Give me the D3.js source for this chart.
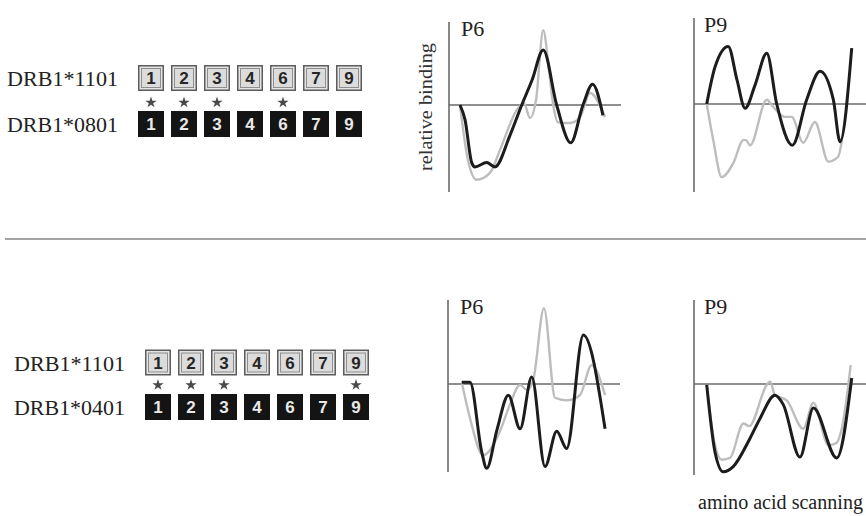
<!DOCTYPE html>
<html>
<head>
<meta charset="utf-8">
<script src="https://cdn.jsdelivr.net/npm/d3@7"></script>
<style>
  body { margin: 0; background: #fff; }
  svg { display: block; }
</style>
</head>
<body>
<div id="figure"></div>
<script>
var svgWidth = 866;
var svgHeight = 516;

// Data
// ==============================
var pockets = ["1", "2", "3", "4", "6", "7", "9"];
var topAlleles = ["DRB1*1101", "DRB1*0801"];
var bottomAlleles = ["DRB1*1101", "DRB1*0401"];
var topStars = ["1", "2", "3", "6"];
var bottomStars = ["1", "2", "3", "9"];
var panelTitles = ["P6", "P9", "P6", "P9"];

// scan position (0-100) and relative binding (-1..1)
var topP6Black = [[6.4,0],[9.3,-0.17],[13.2,-0.67],[15.1,-0.72],[21.9,-0.67],[26.7,-0.72],[35.5,-0.35],[42.3,0],[48.3,0.29],[54.8,0.64],[62.6,0],[70.8,-0.44],[77.9,0],[83.5,0.24],[89.5,-0.12]];
var topP6Gray = [[6.4,0],[11.0,-0.64],[16.1,-0.87],[23.8,-0.79],[29.7,-0.52],[39.4,-0.06],[43.6,0.02],[47.1,-0.15],[50.6,0.06],[54.8,0.87],[58.1,0.41],[60.6,0],[63.4,-0.2],[70.3,-0.21],[76.2,-0.14],[82.0,0.14],[90.7,-0.14]];
var topP9Black = [[7.4,0],[12.2,0.43],[19.9,0.67],[25,0.28],[29.7,-0.05],[35.5,0.22],[42.3,0.59],[48.1,0],[57.2,-0.48],[65.5,0.05],[73.3,0.38],[81,0.05],[84.9,-0.44],[91.7,0.65]];
var topP9Gray = [[7.4,0],[11.2,-0.42],[16.1,-0.85],[22.8,-0.69],[28.7,-0.42],[30.2,-0.42],[32.6,-0.48],[42.3,0.05],[45.9,-0.03],[52.9,-0.15],[56.8,-0.15],[63.5,-0.45],[70.3,-0.21],[78.1,-0.67],[83.9,-0.61],[86,-0.42]];
var bottomP6Black = [[8.0,0.02],[12.8,0.02],[19.6,-0.79],[22.5,-0.98],[28.5,-0.53],[35.1,-0.13],[41.9,-0.52],[48.7,0.08],[56.4,-0.96],[63.2,-0.55],[69.0,-0.75],[78.7,0.57],[91.3,-0.52]];
var bottomP6Gray = [[8.0,0.02],[12.8,-0.40],[20.5,-0.83],[22.5,-0.81],[30.2,-0.55],[36,-0.24],[41.9,-0.01],[45.9,-0.07],[49.6,0.05],[55.8,0.88],[62.2,-0.16],[69.0,-0.19],[76.7,-0.13],[83.5,0.22],[91.3,-0.13]];
var bottomP9Black = [[7.4,-0.01],[12.2,-0.79],[17.0,-1.02],[22.8,-0.96],[32.6,-0.63],[38.4,-0.40],[47.1,-0.13],[51.9,-0.24],[61.6,-0.85],[69.4,-0.28],[83.0,-0.86],[91.7,0.07]];
var bottomP9Gray = [[7.4,-0.01],[12.2,-0.71],[16.1,-0.88],[20.9,-0.86],[28.7,-0.46],[32,-0.49],[42.3,-0.01],[44.2,0.03],[47.1,-0.13],[53.9,-0.19],[63.5,-0.52],[69.4,-0.22],[78.1,-0.71],[82.6,-0.69],[85.9,-0.52],[91.1,0.22]];

var svg = d3.select("#figure")
  .append("svg")
  .attr("width", svgWidth)
  .attr("height", svgHeight);

var serif = "'Liberation Serif', 'Times New Roman', serif";
var sans = "'Liberation Sans', Arial, sans-serif";

// Step 1: pocket boxes for both allele pairs
// ==============================
function drawPockets(alleles, stars, left, rowY, starY) {
  var g = svg.append("g");
  var xBand = d3.scaleBand()
    .domain(pockets)
    .range([left, left + 224])
    .paddingInner(0.212)
    .paddingOuter(0);
  var bw = xBand.bandwidth();

  alleles.forEach(function(name, i) {
    g.append("text")
      .attr("x", left - 131)
      .attr("y", rowY[i] + 21)
      .attr("textLength", 111)
      .attr("lengthAdjust", "spacingAndGlyphs")
      .style("font-family", serif)
      .style("font-size", "21px")
      .style("fill", "#222")
      .text(name);

    var cells = g.selectAll("g.cell" + i)
      .data(pockets)
      .enter().append("g");

    cells.append("rect")
      .attr("x", d => xBand(d) + 0.75)
      .attr("y", rowY[i] + 0.75)
      .attr("width", bw - 1.5)
      .attr("height", 24.5)
      .attr("fill", i == 0 ? "#e4e4e4" : "#141414")
      .attr("stroke", i == 0 ? "#5c5c5c" : "#141414")
      .attr("stroke-width", 1.5);

    if (i == 0) {
      cells.append("rect")
        .attr("x", d => xBand(d) + 3.5)
        .attr("y", rowY[i] + 3.5)
        .attr("width", bw - 7)
        .attr("height", 19)
        .attr("fill", "#dcdcdc")
        .attr("stroke", "#8e8e8e")
        .attr("stroke-width", 1);
    }

    cells.append("text")
      .attr("x", d => xBand(d) + bw / 2)
      .attr("y", rowY[i] + 19)
      .attr("text-anchor", "middle")
      .style("font-family", sans)
      .style("font-weight", "bold")
      .style("font-size", "17px")
      .style("fill", i == 0 ? "#262626" : "#e8e8e8")
      .text(d => d);
  });

  // asterisks marking differing pockets
  g.selectAll("path.star")
    .data(stars)
    .enter().append("path")
    .attr("class", "star")
    .attr("transform", d => `translate(${xBand(d) + bw / 2}, ${starY})`)
    .attr("d", d3.symbol().type(d3.symbolStar).size(40))
    .attr("fill", "#4a4a4a");
}

drawPockets(topAlleles, topStars, 138, [65, 111], 102.5);
drawPockets(bottomAlleles, bottomStars, 145, [349.5, 394], 385);

// divider
svg.append("line")
  .attr("x1", 5).attr("x2", 866)
  .attr("y1", 239).attr("y2", 239)
  .attr("stroke", "#858585")
  .attr("stroke-width", 1.6);

// Step 2: binding profiles
// ==============================
var panels = [
  { axisX: 449, base: 105, top: 22, bottom: 192, black: topP6Black, gray: topP6Gray },
  { axisX: 694, base: 104, top: 18, bottom: 192, black: topP9Black, gray: topP9Gray },
  { axisX: 448, base: 384, top: 300, bottom: 472, black: bottomP6Black, gray: bottomP6Gray },
  { axisX: 694, base: 384, top: 300, bottom: 475, black: bottomP9Black, gray: bottomP9Gray }
];

panels.forEach(function(p, i) {
  var xScale = d3.scaleLinear().domain([0, 100]).range([p.axisX, p.axisX + 172]);
  var yScale = d3.scaleLinear().domain([-1, 1]).range([p.base + 86, p.base - 86]);

  var line = d3.line()
    .x(d => xScale(d[0]))
    .y(d => yScale(d[1]))
    .curve(d3.curveMonotoneX);

  // axes
  svg.append("line")
    .attr("x1", p.axisX).attr("x2", p.axisX)
    .attr("y1", p.top).attr("y2", p.bottom)
    .attr("stroke", "#6a6a6a")
    .attr("stroke-width", 1.6);

  svg.append("line")
    .attr("x1", xScale(0)).attr("x2", xScale(100))
    .attr("y1", yScale(0)).attr("y2", yScale(0))
    .attr("stroke", "#6a6a6a")
    .attr("stroke-width", 1.6);

  svg.append("path")
    .datum(p.gray)
    .attr("d", line)
    .attr("fill", "none")
    .attr("stroke", "#bdbdbd")
    .attr("stroke-width", 2.4);

  svg.append("path")
    .datum(p.black)
    .attr("d", line)
    .attr("fill", "none")
    .attr("stroke", "#1c1c1c")
    .attr("stroke-width", 3);

  svg.append("text")
    .attr("x", p.axisX + (i % 2 == 0 ? 12 : 10))
    .attr("y", p.top + 14)
    .style("font-family", serif)
    .style("font-size", "22px")
    .style("fill", "#222")
    .text(panelTitles[i]);
});

// Step 3: axis labels
// ==============================
svg.append("text")
  .attr("transform", "translate(432, 107) rotate(-90)")
  .attr("text-anchor", "middle")
  .attr("textLength", 128)
  .attr("lengthAdjust", "spacingAndGlyphs")
  .style("font-family", serif)
  .style("font-size", "19px")
  .style("fill", "#333")
  .text("relative binding");

svg.append("text")
  .attr("x", 698)
  .attr("y", 509)
  .attr("textLength", 165)
  .attr("lengthAdjust", "spacingAndGlyphs")
  .style("font-family", serif)
  .style("font-size", "20px")
  .style("fill", "#222")
  .text("amino acid scanning");
</script>
</body>
</html>
